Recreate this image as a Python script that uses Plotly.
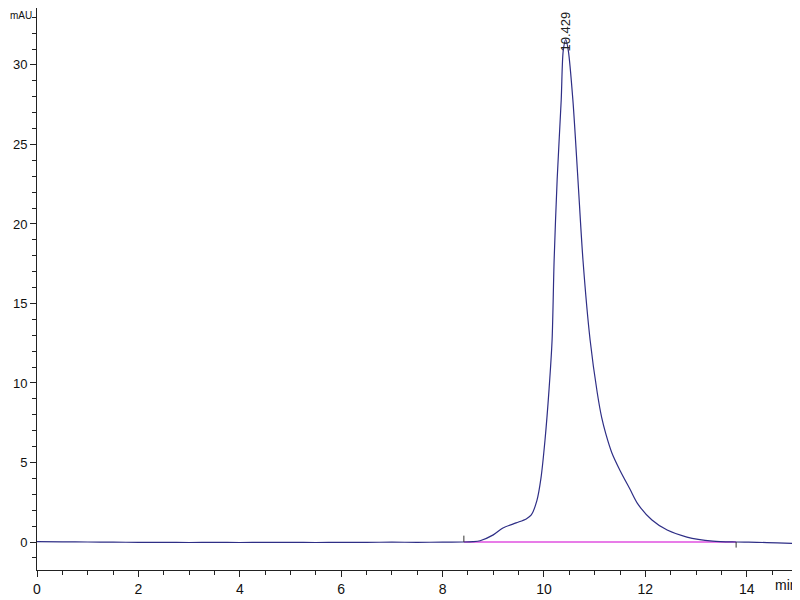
import plotly.graph_objects as go

# chromatogram signal (min, mAU)
tempo = [0.0, 0.5, 1.0, 1.5, 2.0, 2.5, 3.0, 3.5, 4.0, 4.5, 5.0, 5.5, 6.0, 6.5, 7.0, 7.5, 8.0, 8.4,
         8.6, 8.74, 9.0, 9.19, 9.45, 9.65, 9.75, 9.86, 9.94, 10.02, 10.10, 10.16, 10.20, 10.26, 10.34,
         10.38, 10.43, 10.48, 10.57, 10.67, 10.77, 10.91, 11.05, 11.14, 11.22, 11.34, 11.5, 11.7,
         11.85, 12.13, 12.43, 12.82, 13.33, 13.79, 14.2, 14.6, 15.0]
sinal = [0.02, 0.01, 0.0, -0.01, -0.02, -0.02, -0.03, -0.02, -0.03, -0.02, -0.02, -0.03, -0.02, -0.02, -0.01, -0.02, -0.01, 0.0,
         0.02, 0.08, 0.45, 0.88, 1.2, 1.45, 1.7, 2.6, 4.0, 6.4, 9.6, 12.7, 17.7, 22.8, 27.8,
         30.9, 31.6, 30.9, 27.8, 22.8, 17.7, 12.7, 9.4, 7.8, 6.8, 5.6, 4.5, 3.3,
         2.4, 1.38, 0.75, 0.31, 0.06, 0.0, -0.02, -0.05, -0.1]

# integration baseline
base_x = [8.42, 13.79]
base_y = [0.0, 0.0]

pico_tempo = 10.429
pico_label = "10.429"

fonte = "Liberation Sans, Arial"

fig = go.Figure()

fig.add_trace(go.Scatter(
    x=base_x, y=base_y, mode='lines',
    line=dict(color='#e050e0', width=1.5),
    hoverinfo='skip'
))

fig.add_trace(go.Scatter(
    x=tempo, y=sinal, mode='lines',
    line=dict(color='#2e2e86', width=1.2, shape='spline', smoothing=0.8),
))

# small start/end markers of the integration
fig.add_trace(go.Scatter(
    x=[base_x[0], base_x[0], None, base_x[1], base_x[1]],
    y=[0.0, 0.4, None, 0.0, -0.35],
    mode='lines', line=dict(color='#333333', width=1),
    hoverinfo='skip'
))

fig.add_annotation(
    x=pico_tempo, y=30.7, xref='x', yref='y',
    text=pico_label, textangle=-90, showarrow=False,
    xanchor='center', yanchor='bottom',
    font=dict(family=fonte, size=13, color='#222222')
)

# page body has an 8px margin, so the figure is sized to fill the rest
fig.add_annotation(
    x=0, y=1, xref='paper', yref='paper', text='mAU', showarrow=False,
    xanchor='left', yanchor='top', xshift=-29, yshift=0,
    font=dict(family=fonte, size=10, color='#111111')
)
fig.add_annotation(
    x=1, y=0, xref='paper', yref='paper', text='min', showarrow=False,
    xanchor='right', yanchor='top', xshift=0, yshift=-5,
    font=dict(family=fonte, size=14, color='#111111')
)

fig.update_layout(
    width=792, height=592,
    margin=dict(l=29, r=0, t=0, b=30, autoexpand=False),
    paper_bgcolor='white', plot_bgcolor='white',
    showlegend=False,
    font=dict(family=fonte, size=13, color='#111111'),
    xaxis=dict(
        range=[0, 15.05], tickmode='array', tickvals=[0, 2, 4, 6, 8, 10, 12, 14],
        automargin=False, tickfont=dict(size=14),
        showgrid=False, zeroline=False, showline=True, linecolor='#222222', linewidth=1,
        ticks='outside', ticklen=6, tickcolor='#222222',
        minor=dict(dtick=0.5, ticks='outside', ticklen=4, tickcolor='#222222'),
    ),
    yaxis=dict(
        range=[-1.76, 33.58], tickmode='array', tickvals=[0, 5, 10, 15, 20, 25, 30],
        automargin=False, tickfont=dict(size=13),
        showgrid=False, zeroline=False, showline=True, linecolor='#222222', linewidth=1,
        ticks='outside', ticklen=6, tickcolor='#222222',
        minor=dict(dtick=1, ticks='outside', ticklen=4, tickcolor='#222222'),
    ),
)

fig.write_html("out.html")
